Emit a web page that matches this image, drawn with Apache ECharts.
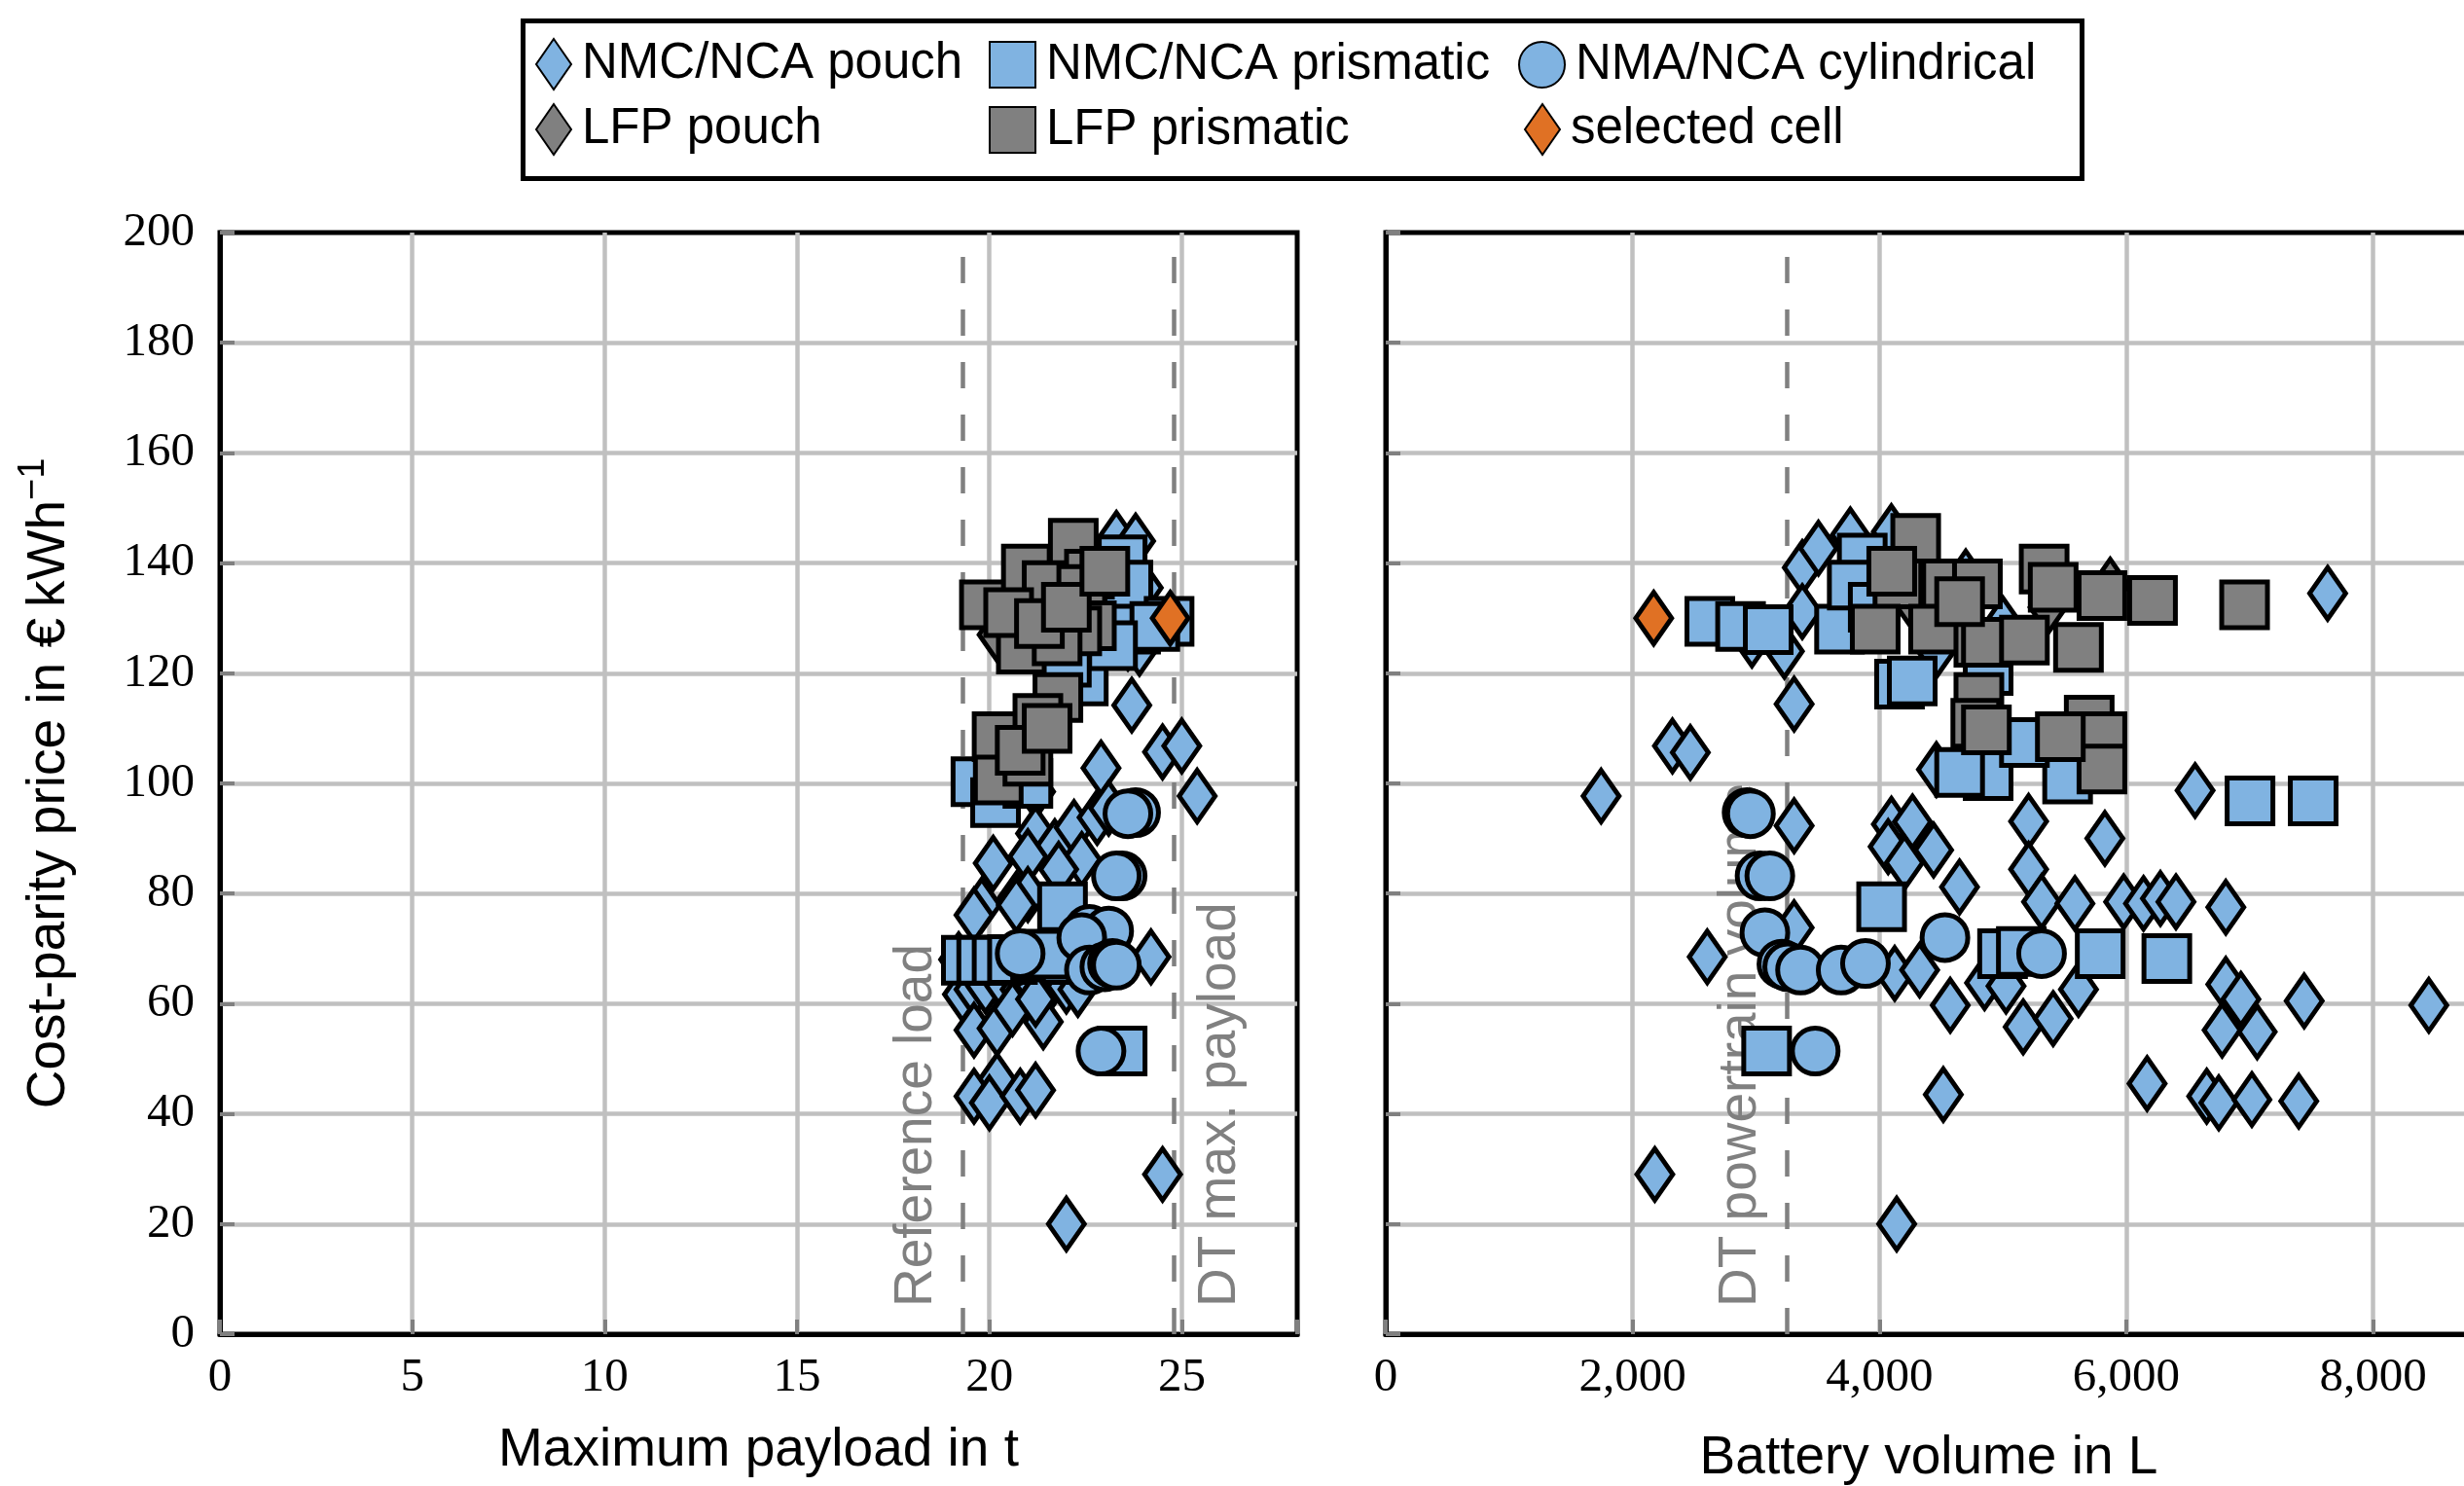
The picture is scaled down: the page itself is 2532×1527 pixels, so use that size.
<!DOCTYPE html>
<html><head><meta charset="utf-8">
<script src="https://cdn.jsdelivr.net/npm/echarts@6/dist/echarts.min.js"></script>
<style>html,body{margin:0;padding:0;background:#fff}#c{width:2532px;height:1527px}</style>
</head><body><div id="c"></div>
<script>
// ---------- data (payload in t / volume in L, cost-parity price in EUR/kWh) ----------
const payloadPouchNMC = [[23.3,144.5],[23.8,144.0],[22.9,126.0],[23.6,125.5],[24.0,135.5],[23.9,124.5],[22.5,131.0],
  [23.7,114.2],[24.5,105.7],[25.0,106.8],[25.4,97.7],[22.9,102.8],[21.2,98.5],[20.5,99.5],
  [20.1,85.5],[21.2,90.9],[21.7,88.5],[22.2,92.0],[22.8,93.8],[23.1,95.5],[22.4,86.2],[21.0,86.7],[21.8,84.4],
  [20.7,79.0],[21.0,79.8],[19.8,77.9],[19.6,76.1],[20.7,77.9],[19.2,68.0],[24.2,68.5],
  [19.3,61.7],[19.6,62.6],[19.9,63.2],[20.4,63.2],[20.8,62.6],[21.2,63.2],[21.6,63.8],[22.0,63.2],[22.3,62.6],
  [19.6,55.2],[20.2,55.5],[20.6,59.1],[21.4,56.7],[21.2,60.8],
  [20.2,46.1],[19.6,43.2],[20.0,42.0],[20.8,43.2],[21.2,44.3],[24.5,29.0],[22.0,20.0]];
const payloadPrismNMC = [[23.45,140.6],[23.6,136.0],[23.8,128.0],[24.67,129.4],[24.3,128.5],[22.44,118.6],[23.2,125.0],[22.0,122.0],
  [19.65,100.3],[20.16,96.5],[21.0,100.0],[21.9,77.6],[19.4,67.9],[19.8,67.9],[20.2,67.9],[20.6,68.0],[21.2,68.5],[22.0,68.0],[21.5,69.0],[23.45,51.4]];
const payloadCylNMC = [[23.8,94.7],[23.6,94.5],[23.45,83.2],[23.3,83.2],[22.6,73.5],[23.1,73.2],[22.4,72.0],[20.8,69.1],
  [22.6,66.1],[23.0,66.7],[23.2,67.3],[23.3,67.0],[22.9,51.4]];
const payloadPouchLFP = [[20.2,127.0],[21.6,133.0],[22.3,131.0],[21.0,136.0]];
const payloadPrismLFP = [[19.87,132.4],[22.18,143.6],[20.96,138.9],[21.5,135.9],[22.6,138.0],[22.4,135.2],[22.65,128.6],[22.27,127.7],
  [20.83,124.4],[21.76,125.9],[21.78,115.6],[20.2,108.5],[20.23,100.6],[21.26,111.8],[20.5,131.0],[21.3,129.0],[22.0,132.0],
  [21.0,104.0],[20.8,106.0],[21.5,110.0],[23.0,138.5]];
const payloadSelected = [[24.7,130.0]];

const volumePouchNMC = [[3375,139.2],[3506,142.7],[3764,145.1],[4097,145.7],[2967,126.0],[3230,124.0],[3375,131.2],[4460,124.0],[5000,129.0],[4700,137.5],
  [3309,114.4],[2323,106.8],[2468,105.6],[1745,97.7],[4462,102.5],[6558,98.7],[7632,134.5],
  [3309,92.3],[4097,92.6],[4071,88.5],[4268,93.0],[4439,87.9],[4203,85.6],[4649,81.2],[5209,93.1],[5827,90.0],[5209,84.4],
  [5314,78.5],[5584,78.2],[5979,78.5],[6140,78.2],[6277,79.1],[6403,78.5],[6807,77.5],
  [3309,73.8],[2605,68.5],[4124,65.5],[4326,66.1],[4574,59.7],[4852,63.8],[5026,63.2],[5613,62.6],[5165,55.8],[5408,57.3],
  [6807,63.5],[6929,60.8],[7442,60.5],[8452,59.7],[6777,55.2],[7061,54.9],
  [6169,45.5],[6652,43.2],[6750,42.0],[7018,42.6],[7398,42.3],[4518,43.5],[2180,29.0],[4140,20.0]];
const volumePrismNMC = [[2626,129.4],[2875,128.5],[3099,127.9],[3677,128.0],[3861,140.9],[3780,136.0],[3950,132.0],[4163,118.0],[4266,118.6],
  [4881,120.5],[4881,101.4],[4650,102.0],[5525,100.8],[5175,107.4],[7003,96.8],[7515,96.8],
  [4018,77.6],[4998,69.1],[5150,69.5],[5789,69.1],[6329,68.2],[3086,51.4]];
const volumeCylNMC = [[2928,94.7],[2955,94.5],[3033,83.2],[3112,83.2],[3072,72.9],[3210,67.2],[3257,66.7],[3361,66.1],
  [3690,66.1],[3887,67.3],[3480,51.4],[4531,72.0],[5314,69.1]];
const volumePouchLFP = [[5366,132.0],[5870,136.0],[4290,132.0],[4700,134.0]];
const volumePrismLFP = [[4294,144.5],[4150,136.2],[4544,136.2],[4794,136.2],[3966,128.0],[4439,128.0],[4806,125.6],[4806,115.6],[4781,110.9],
  [5335,138.9],[5408,135.6],[5803,134.1],[6213,133.2],[6959,132.4],[4867,125.6],[5175,126.0],[5613,124.7],
  [4867,109.7],[5700,111.5],[5803,108.5],[5803,102.6],[5466,108.5],[4100,138.5],[4650,133.0]];
const volumeSelected = [[2171,130.0]];

const referenceLoad = 19.3;      // t
const dtMaxPayload = 24.8;       // t
const dtPowertrainVolume = 3250; // L

const payloadTickStep = 5, volumeTickStep = 2000, priceTickStep = 20;

// ---------- styling ----------
const SANS = '"Liberation Sans", Arial, sans-serif';
const SERIF = '"Liberation Serif", "Times New Roman", serif';
const BLUE = '#80b3e1', GRAY = '#808080', ORANGE = '#e07124';
const GRID = '#c0c0c0', TICK = '#808080';
const DIAMOND = [37, 53], SQUARE = 47, CIRCLE = 47, BW = 5;
const TICKFONT = 49;

const kinds = [
  {name: 'NMC/NCA pouch', symbol: 'diamond', size: DIAMOND, color: BLUE, left: payloadPouchNMC, right: volumePouchNMC},
  {name: 'LFP pouch', symbol: 'diamond', size: DIAMOND, color: GRAY, left: payloadPouchLFP, right: volumePouchLFP},
  {name: 'NMC/NCA prismatic', symbol: 'rect', size: SQUARE, color: BLUE, left: payloadPrismNMC, right: volumePrismNMC},
  {name: 'LFP prismatic', symbol: 'rect', size: SQUARE, color: GRAY, left: payloadPrismLFP, right: volumePrismLFP},
  {name: 'NMA/NCA cylindrical', symbol: 'circle', size: CIRCLE, color: BLUE, left: payloadCylNMC, right: volumeCylNMC},
  {name: 'selected cell', symbol: 'diamond', size: DIAMOND, color: ORANGE, left: payloadSelected, right: volumeSelected}
];

function valueAxisBase(extra) {
  return Object.assign({
    type: 'value',
    axisLine: {show: true, lineStyle: {color: '#000', width: 5}},
    axisTick: {show: true, inside: true, length: 15, lineStyle: {color: TICK, width: 4}},
    splitLine: {show: true, showMinLine: false, showMaxLine: false, lineStyle: {color: GRID, width: 4.5}},
    axisLabel: {show: true, fontFamily: SERIF, fontSize: TICKFONT, color: '#000'},
    nameTextStyle: {fontFamily: SANS, fontSize: 55, color: '#000'}
  }, extra);
}
const fmtStep = step => v => (Math.abs(v / step - Math.round(v / step)) < 1e-9 ? v.toLocaleString('en-US') : '');

const series = [];
kinds.forEach(k => {
  [0, 1].forEach(g => {
    series.push({
      type: 'scatter', name: k.name, xAxisIndex: g, yAxisIndex: g,
      data: g === 0 ? k.left : k.right,
      symbol: k.symbol, symbolSize: k.size,
      itemStyle: {color: k.color, borderColor: '#000', borderWidth: BW, opacity: 1},
      emphasis: {disabled: true}, z: 3
    });
  });
});
function refLine(g, value, text, pos) {
  return {
    type: 'scatter', xAxisIndex: g, yAxisIndex: g, data: [], silent: true,
    markLine: {
      silent: true, symbol: 'none', z: 1, animation: false,
      lineStyle: {type: [27, 27], color: GRAY, width: 4.5},
      label: {show: true, position: pos, formatter: text, fontFamily: SANS, fontSize: 55, color: GRAY, distance: [28, 20]},
      data: [{xAxis: value}]
    }
  };
}
series.push(refLine(0, referenceLoad, 'Reference load', 'insideStartTop'));
series.push(refLine(0, dtMaxPayload, 'DT max. payload', 'insideStartBottom'));
series.push(refLine(1, dtPowertrainVolume, 'DT powertrain volume', 'insideStartTop'));

const legendPos = [
  {name: 'NMC/NCA pouch', left: 550, top: 39, w: 36, h: 52},
  {name: 'NMC/NCA prismatic', left: 1016, top: 41, w: 47, h: 47},
  {name: 'NMA/NCA cylindrical', left: 1560, top: 41, w: 47, h: 47},
  {name: 'LFP pouch', left: 550, top: 106, w: 36, h: 52},
  {name: 'LFP prismatic', left: 1016, top: 108, w: 47, h: 47},
  {name: 'selected cell', left: 1566, top: 106, w: 36, h: 52}
];
const legends = legendPos.map(p => ({
  data: [p.name], left: p.left, top: p.top, padding: 0, itemWidth: p.w, itemHeight: p.h,
  selectedMode: false, textStyle: {fontFamily: SANS, fontSize: 51, color: '#000', padding: [0, 0, 0, 6]}
}));

const gridBase = {top: 239, height: 1132, show: true, borderColor: '#000', borderWidth: 5,
  backgroundColor: 'transparent', containLabel: false, outerBoundsMode: 'none'};

const option = {
  animation: false,
  backgroundColor: '#fff',
  graphic: [{type: 'rect', left: 535, top: 19, shape: {width: 1602, height: 162}, style: {fill: '#fff', stroke: '#000', lineWidth: 5}, z: -1}],
  legend: legends,
  grid: [
    Object.assign({left: 226, width: 1107}, gridBase),
    Object.assign({left: 1424, width: 1116}, gridBase)
  ],
  xAxis: [
    valueAxisBase({gridIndex: 0, min: 0, max: 28, interval: payloadTickStep, position: 'bottom',
      axisLabel: {fontFamily: SERIF, fontSize: TICKFONT, color: '#000', margin: 21, formatter: fmtStep(payloadTickStep)},
      name: 'Maximum payload in t', nameLocation: 'middle', nameGap: 92}),
    valueAxisBase({gridIndex: 1, min: 0, max: 8800, interval: volumeTickStep, position: 'bottom',
      axisLabel: {fontFamily: SERIF, fontSize: TICKFONT, color: '#000', margin: 21, formatter: fmtStep(volumeTickStep)},
      name: 'Battery volume in L', nameLocation: 'middle', nameGap: 100})
  ],
  yAxis: [
    valueAxisBase({gridIndex: 0, min: 0, max: 200, interval: priceTickStep, position: 'left',
      axisLabel: {fontFamily: SERIF, fontSize: TICKFONT, color: '#000', margin: 26, formatter: fmtStep(priceTickStep)},
      name: 'Cost-parity price in €\u2009kWh{sup|\u22121}', nameLocation: 'middle', nameGap: 140,
      nameTextStyle: {fontFamily: SANS, fontSize: 55, color: '#000', lineHeight: 70,
        rich: {sup: {fontFamily: SANS, fontSize: 38, verticalAlign: 'top', lineHeight: 40, color: '#000'}}}}),
    valueAxisBase({gridIndex: 1, min: 0, max: 200, interval: priceTickStep, position: 'left',
      axisLabel: {show: false}})
  ],
  series: series
};
const chart = echarts.init(document.getElementById('c'), null, {renderer: 'canvas'});
chart.setOption(option);
</script></body></html>
